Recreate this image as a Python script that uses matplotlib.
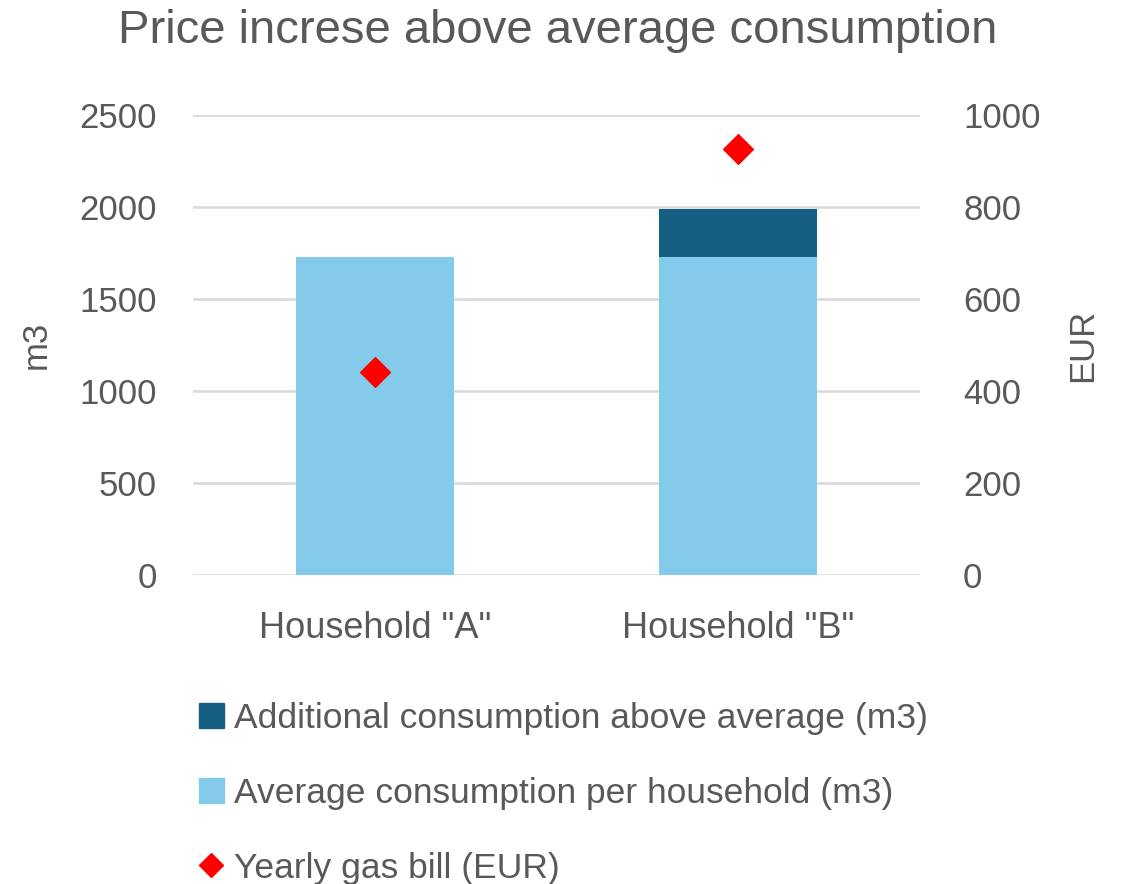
import matplotlib.pyplot as plt
from matplotlib.patches import Patch
from matplotlib.lines import Line2D

# data
households = ['Household "A"', 'Household "B"']
average_m3 = [1730, 1730]
additional_m3 = [0, 260]
yearly_bill_eur = [442, 925]
m3_ticks = [0, 500, 1000, 1500, 2000, 2500]
eur_ticks = [0, 200, 400, 600, 800, 1000]

plt.rcParams['font.family'] = ['Liberation Sans', 'DejaVu Sans']
text_grey = "#595959"
light_blue = "#83CAEB"
dark_blue = "#156082"

fig = plt.figure(figsize=(11.22, 8.84), dpi=100)
ax = fig.add_axes([0.172, 0.3495, 0.648, 0.5205])
ax2 = ax.twinx()

x = range(len(households))
ax.bar(x, average_m3, width=0.435, color=light_blue, zorder=2)
ax.bar(x, additional_m3, width=0.435, bottom=average_m3, color=dark_blue, zorder=2)
ax2.scatter(x, yearly_bill_eur, marker="D", s=230, color="red", zorder=3)

# axes, grid and ticks
ax.set_xlim(-0.5, 1.5)
ax.set_ylim(0, 2500)
ax2.set_ylim(0, 1000)
ax.set_yticks(m3_ticks)
ax2.set_yticks(eur_ticks)
ax.set_xticks(list(x))
ax.set_xticklabels(households)
ax.grid(axis="y", color="#d9d9d9", linewidth=1.8, zorder=0)
ax.set_axisbelow(True)
for a in (ax, ax2):
    for s in a.spines.values():
        s.set_visible(False)
    a.tick_params(length=0, labelsize=25, labelcolor=text_grey)
ax.tick_params(axis="y", pad=26)
ax2.tick_params(axis="y", pad=31)
ax.tick_params(axis="x", labelsize=26, pad=26)

ax.set_ylabel("m3", fontsize=25, color=text_grey)
ax2.set_ylabel("EUR", fontsize=25, color=text_grey)
ax.yaxis.set_label_coords(-0.1926, 0.5)
ax2.yaxis.set_label_coords(1.2006, 0.5)
fig.text(0.497, 0.951, "Price increse above average consumption", ha="center", va="baseline",
         fontsize=34, color=text_grey)

handles = [Patch(color=dark_blue), Patch(color=light_blue),
           Line2D([], [], marker="D", color="red", linestyle="none", markersize=12)]
labels = ["Additional consumption above average (m3)",
          "Average consumption per household (m3)",
          "Yearly gas bill (EUR)"]
leg = fig.legend(handles, labels, loc="upper left", bbox_to_anchor=(0.1774, 0.2056),
                 frameon=False, fontsize=25.5, labelcolor=text_grey, labelspacing=1.18,
                 handlelength=0.7, handleheight=0.7, handletextpad=0.28,
                 borderpad=0, borderaxespad=0)

fig.savefig("out.png", dpi=100)
